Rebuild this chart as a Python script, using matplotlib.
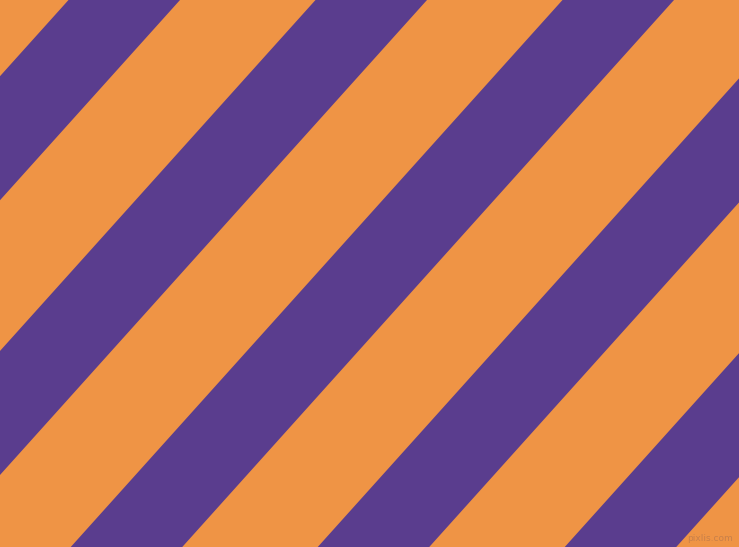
import matplotlib
matplotlib.use("Agg")
import matplotlib.pyplot as plt

# Pattern description
background_color = "#EF9445"
stripe_color = "#5A3D8E"
stripe_top_x = [-178.5, 68.5, 315.5, 562.5, 809.5, 1056.5]  # left edge of each purple stripe at top
stripe_width = 111.5      # horizontal width of a purple stripe
shift_per_px = 0.899      # horizontal shift (leftwards) per pixel down

W, H = 739, 547
fig = plt.figure(figsize=(W / 100, H / 100), dpi=100)
ax = fig.add_axes([0, 0, 1, 1])
ax.set_xlim(0, W)
ax.set_ylim(H, 0)
ax.set_facecolor(background_color)
fig.patch.set_facecolor(background_color)
ax.axis("off")

for x0 in stripe_top_x:
    xs = [x0, x0 + stripe_width, x0 + stripe_width - shift_per_px * H, x0 - shift_per_px * H]
    ys = [0, 0, H, H]
    ax.fill(xs, ys, color=stripe_color, linewidth=0, antialiased=True)

ax.text(733, 541, "pixlis.com", ha="right", va="baseline", fontsize=6.5,
        color="#C8804A", family="DejaVu Sans")

fig.savefig("out.png", dpi=100, facecolor=background_color)
